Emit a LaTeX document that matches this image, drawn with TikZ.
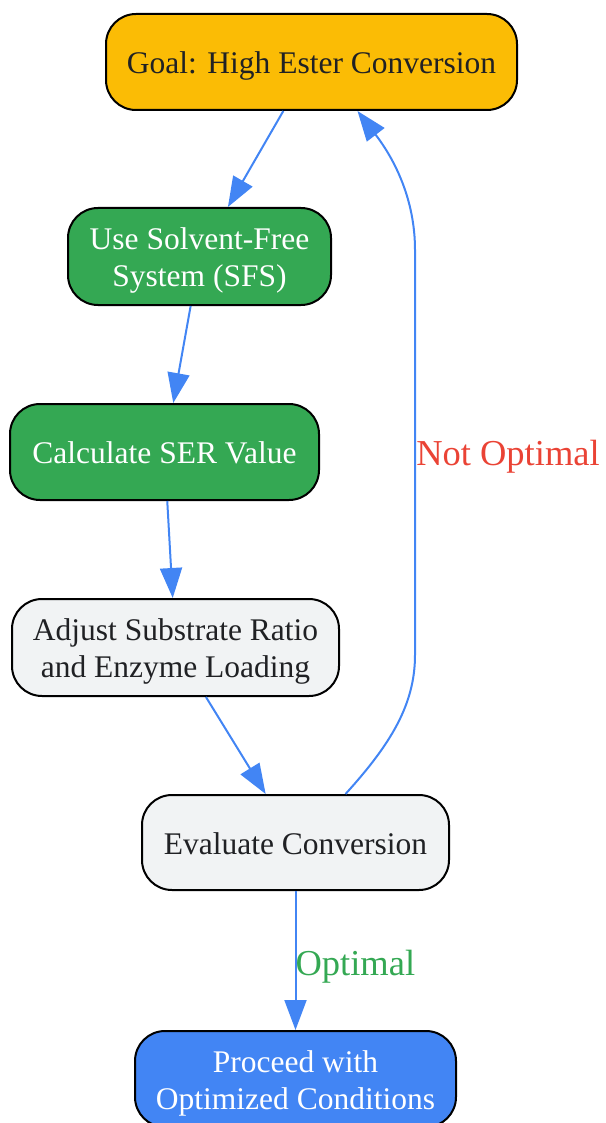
\documentclass[tikz,border=0pt]{standalone}
\usepackage{fontspec}
\setmainfont{Liberation Serif}
\usetikzlibrary{arrows.meta}
\definecolor{gold}{HTML}{FBBC05}
\definecolor{ggreen}{HTML}{34A853}
\definecolor{glight}{HTML}{F1F3F4}
\definecolor{gblue}{HTML}{4285F4}
\definecolor{gred}{HTML}{EA4335}
\definecolor{gdark}{HTML}{202124}
\newcommand\ntxt[1]{\raisebox{-4.5pt}[\height][\depth]{\begin{tabular}{@{}c@{}}#1\end{tabular}}}
\begin{document}
\begin{tikzpicture}[x=1pt,y=-1pt,
  box/.style={draw=black,line width=2pt,rounded corners=30pt,align=center,
    font=\fontsize{31.5}{37}\selectfont,inner sep=0pt},
  conn/.style={draw=gblue,line width=2pt,-{Triangle[length=30pt,width=22pt]}},
  lbl/.style={font=\fontsize{36.5}{40}\selectfont}]
\useasboundingbox (0,0) rectangle (605,1123);
\node[box,fill=gold,text=gdark,minimum width=411pt,minimum height=96pt] (g) at (311.5,62) {\ntxt{Goal: High Ester Conversion}};
\node[box,fill=ggreen,text=white,minimum width=263pt,minimum height=97pt] (u) at (199.5,256.5) {\ntxt{Use Solvent-Free\\System (SFS)}};
\node[box,fill=ggreen,text=white,minimum width=309pt,minimum height=96pt] (c) at (164.5,452) {\ntxt{Calculate SER Value}};
\node[box,fill=glight,text=gdark,minimum width=327pt,minimum height=97pt] (a) at (175.5,647.5) {\ntxt{Adjust Substrate Ratio\\and Enzyme Loading}};
\node[box,fill=glight,text=gdark,minimum width=307pt,minimum height=95pt] (e) at (295.5,842.5) {\ntxt{Evaluate Conversion}};
\node[box,fill=gblue,text=white,minimum width=321pt,minimum height=96pt] (p) at (295.5,1079) {\ntxt{Proceed with\\Optimized Conditions}};
\draw[conn] (g) -- (u);
\draw[conn] (u) -- (c);
\draw[conn] (c) -- (a);
\draw[conn] (a) -- (e);
\draw[conn] (e) -- node[lbl,text=ggreen,right,pos=0.52,xshift=-2pt,yshift=-3pt,inner sep=1pt] (lo) {Optimal} (p);
\coordinate (es) at ([xshift=50pt]e.north);
\coordinate (ge) at ([xshift=46pt]g.south);
\draw[conn] (es) .. controls (390,745) and (415,705) .. (415,655) -- (415,250) .. controls (415,200) and (395,160) .. (ge);
\node[lbl,text=gred,inner sep=0pt] (ln) at (508,457) {Not Optimal};
\end{tikzpicture}
\end{document}
